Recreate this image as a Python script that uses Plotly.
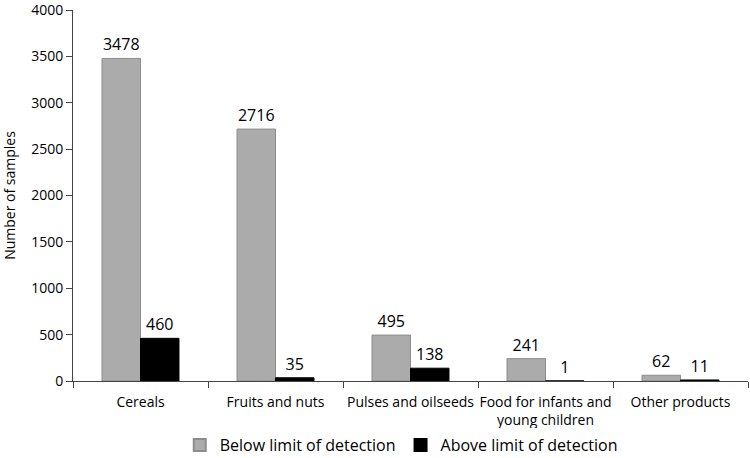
import plotly.graph_objects as go

categories = ["Cereals", "Fruits and nuts", "Pulses and oilseeds",
              "Food for infants and<br>young children", "Other products"]
below = [3478, 2716, 495, 241, 62]
above = [460, 35, 138, 1, 11]
series_names = ["Below limit of detection", "Above limit of detection"]
y_ticks = [0, 500, 1000, 1500, 2000, 2500, 3000, 3500, 4000]

FONT = "Open Sans"

fig = go.Figure()
fig.add_trace(go.Bar(
    x=categories, y=below, name=series_names[0],
    marker=dict(color="#ababab", line=dict(color="#8c8c8c", width=1)),
    text=[str(v) for v in below], textposition="outside",
    textfont=dict(size=16, color="black", family=FONT), cliponaxis=False,
))
fig.add_trace(go.Bar(
    x=categories, y=above, name=series_names[1],
    marker=dict(color="black", line=dict(color="black", width=1)),
    text=[str(v) for v in above], textposition="outside",
    textfont=dict(size=16, color="black", family=FONT), cliponaxis=False,
))

fig.update_layout(
    width=750, height=458,
    margin=dict(l=73, r=2, t=10, b=77, autoexpand=False),
    paper_bgcolor="white", plot_bgcolor="white",
    barmode="group", bargap=0.43, bargroupgap=0,
    font=dict(family=FONT, size=14, color="black"),
    showlegend=True,
    legend=dict(orientation="h", xref="container", yref="container",
                x=0.535, xanchor="center", y=0.028, yanchor="middle",
                font=dict(size=16, family=FONT), itemsizing="constant",
                traceorder="normal", itemwidth=30),
    uniformtext=dict(mode=False),
)
fig.update_xaxes(
    showline=True, linecolor="#444444", linewidth=1, automargin=False,
    ticks="outside", tickson="boundaries", ticklen=6, tickcolor="#444444",
    tickfont=dict(size=14, family=FONT), showgrid=False, tickangle=0,
    ticklabelstandoff=8,
)
fig.update_yaxes(
    range=[0, 4000], tickmode="array", tickvals=y_ticks, ticktext=[str(v) for v in y_ticks],
    showline=True, linecolor="#444444", linewidth=1, ticklabeloverflow="allow",
    ticks="outside", ticklen=6, tickcolor="#444444", showgrid=False, zeroline=False,
    tickfont=dict(size=14, family=FONT), automargin=False,
    title=dict(text="Number of samples", font=dict(size=14, family=FONT), standoff=12),
)

fig.write_html("out.html", config={"displayModeBar": False},
               post_script="document.body.style.margin='0';document.body.style.padding='0';")
